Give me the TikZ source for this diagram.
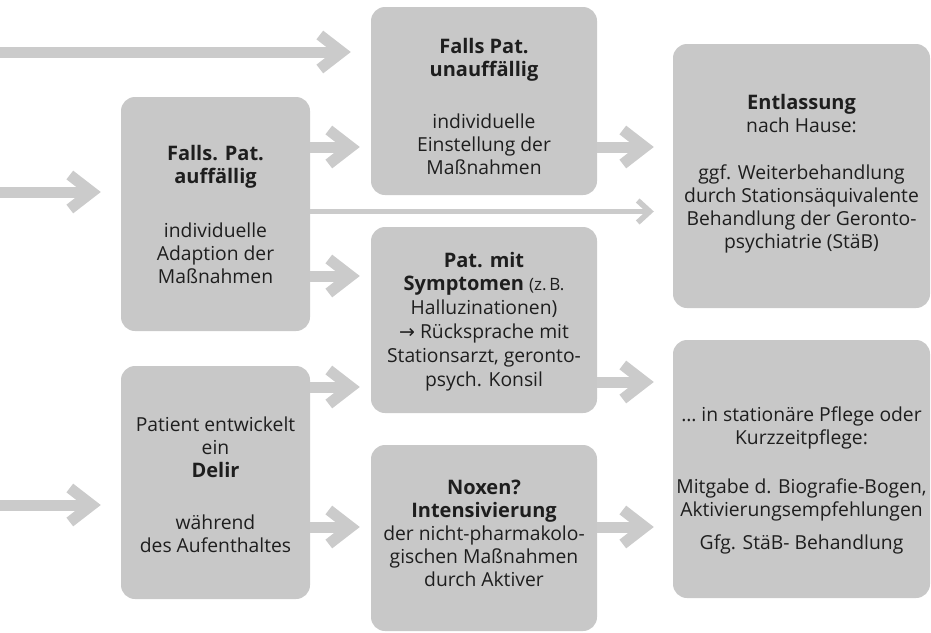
\documentclass[tikz,border=0pt]{standalone}
\usepackage{fontspec}
\setmainfont{Open Sans}
\newfontfamily\symf{DejaVu Sans}
\usetikzlibrary{arrows.meta}
\definecolor{boxgray}{RGB}{200,200,200}
\definecolor{arrgray}{RGB}{203,203,203}
\definecolor{txtcol}{RGB}{30,30,30}
\newcommand{\hd}{\fontsize{20}{25}\selectfont\bfseries}
\newcommand{\rg}{\fontsize{19.3}{23}\selectfont}
\tikzset{
  box/.style={fill=boxgray, rounded corners=14pt, inner sep=0pt, draw=none},
  txt/.style={align=center, text=txtcol, font=\rg, inner sep=0pt},
  arr/.style={draw=arrgray, line width=11pt, -{Straight Barb[length=22pt,width=34pt,sharp]}},
  thinarr/.style={draw=arrgray, line width=5.5pt, -{Straight Barb[length=12pt,width=22pt,sharp]}},
}
\begin{document}
\begin{tikzpicture}[x=1pt,y=-1pt]
\useasboundingbox (0,0) rectangle (931,632);
% boxes
\node[box, minimum width=189pt, minimum height=234pt] (A) at (215.5,214) {};
\node[box, minimum width=226pt, minimum height=188pt] (B) at (484,101) {};
\node[box, minimum width=226pt, minimum height=186pt] (C) at (484,320) {};
\node[box, minimum width=189pt, minimum height=233pt] (D) at (215.5,482.5) {};
\node[box, minimum width=226pt, minimum height=186pt] (E) at (484,538) {};
\node[box, minimum width=257pt, minimum height=264pt] (F) at (801.5,176) {};
\node[box, minimum width=257pt, minimum height=258pt] (G) at (801.5,469) {};
% texts
\node[txt] (At) at (215.5,214) {{\hd Falls. Pat.}\\{\hd auffällig}\\[31pt]individuelle\\Adaption der\\Maßnahmen};
\node[txt] (Bt) at (484,106) {{\hd Falls Pat.}\\{\hd unauffällig}\\[29pt]individuelle\\Einstellung der\\Maßnahmen};
\node[txt] (Ct) at (484,322) {{\hd Pat. mit}\\{\hd Symptomen} {\fontsize{17}{23}\selectfont(z.\,B.}\\[1pt]Halluzinationen)\\[1pt]{\symf\fontsize{19}{23}\selectfont →} Rücksprache mit\\[1pt]Stationsarzt, geronto-\\[1pt]psych. Konsil};
\node[txt] (Dt) at (215.5,485) {Patient entwickelt\\ein\\{\hd Delir}\\[29pt]während\\des Aufenthaltes};
\node[txt] (Et) at (484,533) {{\hd Noxen?}\\{\hd Intensivierung}\\der nicht-pharmakolo-\\gischen Maßnahmen\\durch Aktiver};
\node[txt] (Ft) at (801.5,174) {{\hd Entlassung}\\nach Hause:\\[24pt]ggf. Weiterbehandlung\\durch Stationsäquivalente\\Behandlung der Geronto-\\psychiatrie (StäB)};
\node[txt] (Gt) at (801.5,480) {… in stationäre Pflege oder\\Kurzzeitpflege:\\[26pt]Mitgabe d. Biografie-Bogen,\\Aktivierungsempfehlungen\\[10pt]Gfg. StäB- Behandlung};
% free starts
\coordinate (s1) at (0,52);
\coordinate (s2) at (0,192);
\coordinate (s3) at (0,505);
% connectors
\draw[arr, shorten >=20pt] (s1) -- (B.west |- s1);
\draw[arr, shorten >=20pt] (s2) -- (A.west |- s2);
\draw[arr, shorten >=20pt] (s3) -- (D.west |- s3);
\draw[arr, shorten >=11pt] (A.east |- 0,147) -- (B.west |- 0,147);
\draw[arr, shorten >=11pt] (A.east |- 0,276) -- (C.west |- 0,276);
\draw[thinarr, shorten >=19pt] (A.east |- 0,211.5) -- (F.west |- 0,211.5);
\draw[arr, shorten >=19pt] (B.east |- 0,147) -- (F.west |- 0,147);
\draw[arr, shorten >=19pt] (C.east |- 0,382) -- (G.west |- 0,382);
\draw[arr, shorten >=11pt] (D.east |- 0,387) -- (C.west |- 0,387);
\draw[arr, shorten >=11pt] (D.east |- 0,527) -- (E.west |- 0,527);
\draw[arr, shorten >=19pt] (E.east |- 0,527) -- (G.west |- 0,527);
\end{tikzpicture}
\end{document}
